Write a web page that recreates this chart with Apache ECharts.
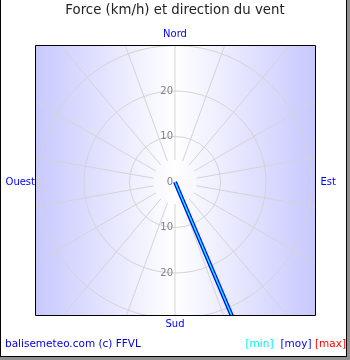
<!DOCTYPE html>
<html><head><meta charset="utf-8">
<script src="https://cdn.jsdelivr.net/npm/echarts@6/dist/echarts.min.js"></script>
<style>html,body{margin:0;padding:0;background:#fff}#c{width:350px;height:360px}</style>
</head><body><div id="c"></div>
<script>
const titleText = 'Force (km/h) et direction du vent';
const compassLabels = ['Nord', 'Est', 'Sud', 'Ouest'];
const radiusMax = 40;
const radiusStep = 10;
const northLabels = [0, 10, 20];
const southLabels = [10, 20];
const windDirection = [157];   // degrees, clockwise from North
const windMin = [36];          // km/h (beyond the visible frame)
const windMoy = [38];          // km/h
const legendItems = ['[min]', '[moy]', '[max]'];
const legendColors = ['#00f0f0', '#0000ff', '#ff0000'];
const creditText = 'balisemeteo.com (c) FFVL';

const FONT = 'DejaVu Sans';
const cx = 175, cy = 182, R = 182;
const gridColor = '#d4d4d4';

const chart = echarts.init(document.getElementById('c'), null, {renderer: 'canvas'});

function hiddenAngle(polarIndex, startAngle) {
  return {polarIndex, type: 'value', min: 0, max: 360, interval: 20, startAngle, clockwise: true,
    axisLine: {show: false}, axisTick: {show: false}, axisLabel: {show: false}, splitLine: {show: false}, z: 1};
}

const option = {
  animation: false,
  polar: [
    {center: [cx, cy], radius: R},
    {center: [cx, cy], radius: [22, 210]},
    {center: [cx, cy], radius: R}
  ],
  angleAxis: [
    hiddenAngle(0, 90),
    Object.assign(hiddenAngle(1, 90), {splitLine: {show: true, lineStyle: {color: gridColor, width: 1}}}),
    hiddenAngle(2, 270)
  ],
  radiusAxis: [
    {polarIndex: 0, type: 'value', min: 0, max: radiusMax, interval: radiusStep,
      axisLine: {show: false}, axisTick: {show: false},
      axisLabel: {formatter: v => northLabels.includes(v) ? String(v) : '', color: '#808080',
        fontSize: 10, fontFamily: FONT, margin: 2},
      splitLine: {show: true, lineStyle: {color: ['rgba(0,0,0,0)', gridColor, gridColor, gridColor, 'rgba(0,0,0,0)'], width: 1}},
      z: 1},
    {polarIndex: 1, type: 'value', min: 0, max: 1, show: false},
    {polarIndex: 2, type: 'value', min: 0, max: radiusMax, interval: radiusStep,
      axisLine: {show: false}, axisTick: {show: false}, splitLine: {show: false},
      axisLabel: {formatter: v => southLabels.includes(v) ? String(v) : '', color: '#808080',
        fontSize: 10, fontFamily: FONT, margin: -2, align: 'right'},
      z: 1}
  ],
  series: [
    {type: 'line', coordinateSystem: 'polar', polarIndex: 0, name: 'moy',
      data: [[0, windDirection[0]], [windMoy[0], windDirection[0]]],
      symbol: 'none', lineStyle: {color: '#0000ff', width: 4}, z: 2, clip: false, silent: true},
    {type: 'line', coordinateSystem: 'polar', polarIndex: 0, name: 'min',
      data: [[0, windDirection[0]], [windMin[0], windDirection[0]]],
      symbol: 'none', lineStyle: {color: '#00ffff', width: 1.5}, z: 3, clip: false, silent: true}
  ],
  graphic: [
    {type: 'rect', z: -10, shape: {x: 35, y: 45, width: 280, height: 270},
      style: {fill: new echarts.graphic.LinearGradient(0, 0, 1, 0, [
        {offset: 0, color: '#c8c8ff'}, {offset: 0.5, color: '#ffffff'}, {offset: 1, color: '#c8c8ff'}])}},
    {type: 'rect', z: 50, shape: {x: 0, y: 0, width: 350, height: 45}, style: {fill: '#fff'}},
    {type: 'rect', z: 50, shape: {x: 0, y: 315, width: 350, height: 45}, style: {fill: '#fff'}},
    {type: 'rect', z: 50, shape: {x: 0, y: 45, width: 35, height: 270}, style: {fill: '#fff'}},
    {type: 'rect', z: 50, shape: {x: 315, y: 45, width: 35, height: 270}, style: {fill: '#fff'}},
    {type: 'rect', z: 51, shape: {x: 35.5, y: 45.5, width: 280, height: 270}, style: {fill: null, stroke: '#000', lineWidth: 1}},
    // outer frame
    {type: 'rect', z: 52, shape: {x: 0, y: 0, width: 1, height: 360}, style: {fill: '#000'}},
    {type: 'rect', z: 52, shape: {x: 346, y: 0, width: 1, height: 357}, style: {fill: '#000'}},
    {type: 'rect', z: 52, shape: {x: 347, y: 0, width: 3, height: 360}, style: {fill: '#909090'}},
    {type: 'rect', z: 52, shape: {x: 0, y: 356, width: 347, height: 1}, style: {fill: '#000'}},
    {type: 'rect', z: 52, shape: {x: 0, y: 357, width: 350, height: 3}, style: {fill: '#909090'}},
    // texts
    {type: 'text', z: 60, x: 175, y: 11, style: {text: titleText, fill: '#222', fontSize: 13.3, fontFamily: FONT, align: 'center', verticalAlign: 'middle'}},
    {type: 'text', z: 60, x: 175, y: 34, style: {text: compassLabels[0], fill: '#0000ff', fontSize: 10, fontFamily: FONT, align: 'center', verticalAlign: 'middle'}},
    {type: 'text', z: 60, x: 320.5, y: 182.5, style: {text: compassLabels[1], fill: '#0000ff', fontSize: 10, fontFamily: FONT, align: 'left', verticalAlign: 'middle'}},
    {type: 'text', z: 60, x: 175, y: 324, style: {text: compassLabels[2], fill: '#0000ff', fontSize: 10, fontFamily: FONT, align: 'center', verticalAlign: 'middle'}},
    {type: 'text', z: 60, x: 35, y: 182.5, style: {text: compassLabels[3], fill: '#0000ff', fontSize: 10, fontFamily: FONT, align: 'right', verticalAlign: 'middle'}},
    {type: 'text', z: 60, x: 5, y: 344, style: {text: creditText, fill: '#0000dd', fontSize: 10.5, fontFamily: FONT, align: 'left', verticalAlign: 'middle'}},
    {type: 'text', z: 60, x: 245.5, y: 344, style: {text: legendItems[0], fill: legendColors[0], fontSize: 10.5, fontFamily: FONT, align: 'left', verticalAlign: 'middle'}},
    {type: 'text', z: 60, x: 280.5, y: 344, style: {text: legendItems[1], fill: legendColors[1], fontSize: 10.5, fontFamily: FONT, align: 'left', verticalAlign: 'middle'}},
    {type: 'text', z: 60, x: 315, y: 344, style: {text: legendItems[2], fill: legendColors[2], fontSize: 10.5, fontFamily: FONT, align: 'left', verticalAlign: 'middle'}}
  ]
};
chart.setOption(option);
</script></body></html>
